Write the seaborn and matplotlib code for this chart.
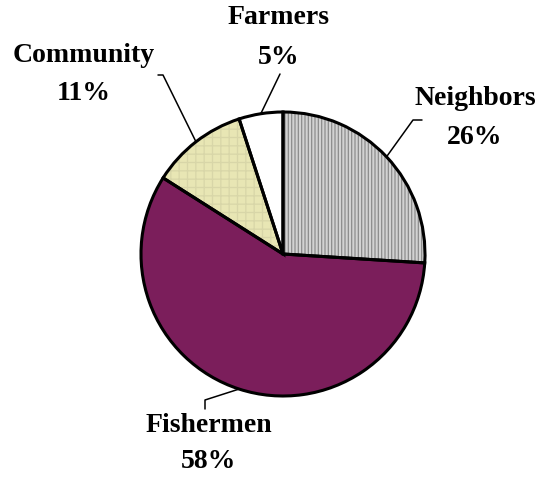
import numpy as np
import matplotlib
matplotlib.use("Agg")
import matplotlib.pyplot as plt
import seaborn as sns

# Dados
grupos = ['Neighbors', 'Fishermen', 'Community', 'Farmers']
percentuais = [26, 58, 11, 5]
rotulos = ['26%', '58%', '11%', '5%']

cores = ['#d2d2d2', '#7b1e5b', '#e8e6b4', '#ffffff']
hachuras = ['|||||', None, '++', None]
cor_hachura = ['#8c8c8c', '#7b1e5b', '#d8d6a8', '#ffffff']

sns.set_theme(style="white")
plt.rcParams['font.family'] = ['Liberation Serif', 'DejaVu Serif']
plt.rcParams['hatch.linewidth'] = 0.9

W, H = 541, 478
fig = plt.figure(figsize=(W / 100, H / 100), dpi=100)
ax = fig.add_axes([0, 0, 1, 1])

centro = (283, H - 254)
raio = 142

# preenchimento + hachura
fatias, _ = ax.pie(percentuais, colors=cores, startangle=90, counterclock=False,
                   center=centro, radius=raio, frame=True,
                   wedgeprops=dict(linewidth=0))
for f, h, c in zip(fatias, hachuras, cor_hachura):
    f.set_edgecolor(c)
    if h:
        f.set_hatch(h)

# contorno preto
bordas, _ = ax.pie(percentuais, startangle=90, counterclock=False,
                   center=centro, radius=raio, frame=True,
                   wedgeprops=dict(fill=False, edgecolor='black', linewidth=2.2))
ax.set_xlim(0, W)
ax.set_ylim(0, H)
ax.axis('off')

# posicoes dos textos (pixels da imagem) e cotovelos das linhas guia
texto_pos = {
    'Neighbors': (475, 98, 137),
    'Fishermen': (209, 425, 462),
    'Community': (84, 55, 93),
    'Farmers': (279, 17, 57),
}
cotovelos = {
    'Neighbors': [(413, 120), (422, 120)],
    'Fishermen': [(205, 400), (205, 409)],
    'Community': [(163, 75), (158, 75)],
    'Farmers': [(280, 74)],
}

for f, nome, rot in zip(bordas, grupos, rotulos):
    ang = np.deg2rad((f.theta1 + f.theta2) / 2)
    x0 = centro[0] + raio * np.cos(ang)
    y0 = centro[1] + raio * np.sin(ang)
    xs = [x0] + [p[0] for p in cotovelos[nome]]
    ys = [y0] + [H - p[1] for p in cotovelos[nome]]
    ax.plot(xs, ys, color='black', linewidth=1.1)
    tx, ty1, ty2 = texto_pos[nome]
    ax.text(tx, H - ty1, nome, ha='center', va='center', fontsize=20,
            fontweight='bold', color='black')
    ax.text(tx, H - ty2, rot, ha='center', va='center', fontsize=20,
            fontweight='bold', color='black')

fig.savefig('out.png', dpi=100)
